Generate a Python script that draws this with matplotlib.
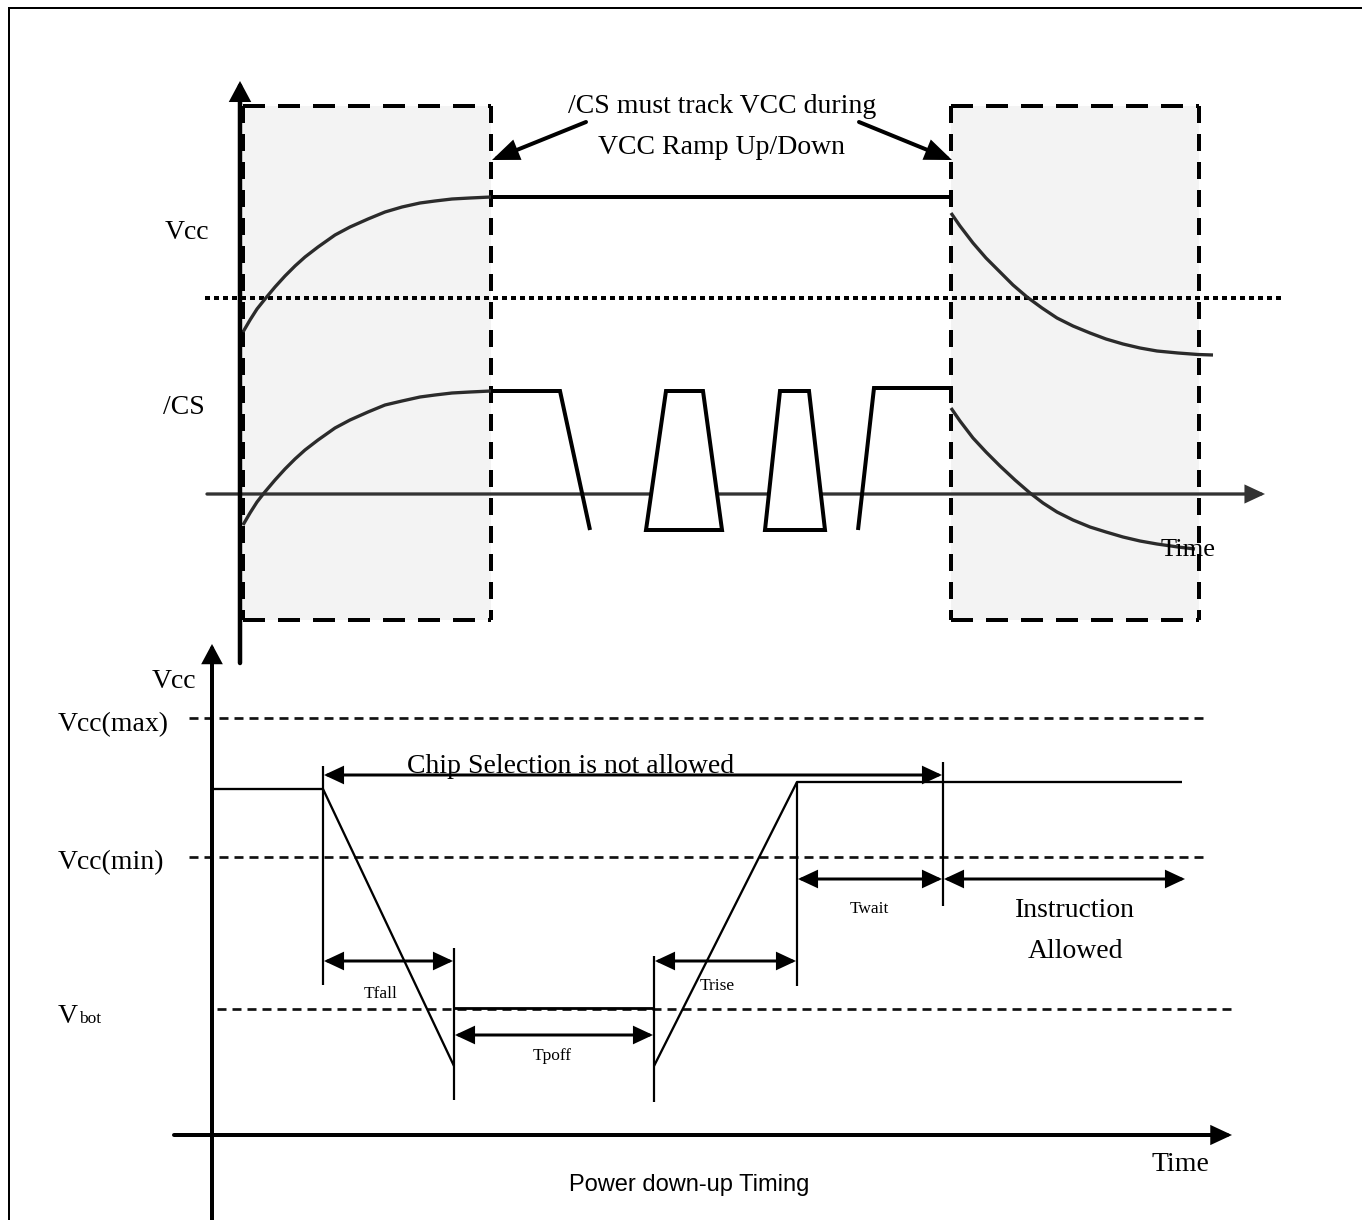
import matplotlib
matplotlib.use('Agg')
import matplotlib.pyplot as plt
from matplotlib.patches import FancyArrowPatch, Rectangle, Polygon

plt.rcParams['lines.scale_dashes'] = False
plt.rcParams['lines.solid_capstyle'] = 'butt'

# ---------------- data (in picture units) ----------------
W, H = 1362, 1220

# top panel: Vcc ramp-up curve (left box), Vcc ramp-down (right box)
vcc_up_x = [243, 250, 257, 265, 275, 285, 295, 305, 318, 335, 350, 368, 385, 402, 420, 435, 452, 470, 491]
vcc_up_y = [332, 320, 309, 299, 287, 276, 266, 257, 247, 235, 227, 219, 212, 207, 203, 201, 199, 198, 197]
vcc_dn_x = [951, 960, 973, 986, 1000, 1013, 1027, 1042, 1057, 1073, 1090, 1106, 1123, 1140, 1157, 1178, 1198, 1213]
vcc_dn_y = [213, 226, 243, 258, 272, 285, 297, 308, 318, 326, 333, 339, 344, 348, 351, 353, 354.5, 355]
vcc_flat_x = [491, 950]
vcc_flat_y = [197, 197]

# top panel: /CS tracking curves
cs_up_x = [243, 250, 257, 264, 275, 285, 295, 305, 318, 335, 350, 368, 385, 402, 420, 435, 452, 470, 491]
cs_up_y = [525, 513, 502, 493, 480, 469, 459, 450, 440, 428, 420, 412, 405, 401, 397, 395, 393, 392, 391]
cs_dn_x = [951, 960, 973, 986, 1000, 1015, 1030, 1043, 1057, 1073, 1090, 1106, 1123, 1140, 1157, 1178, 1195]
cs_dn_y = [408, 421, 438, 452, 466, 480, 493, 503, 512, 520, 527, 532, 537, 541, 544, 547, 549]

# top panel: /CS digital pulses
cs_high_x = [491, 560, 590]
cs_high_y = [391, 391, 530]
pulse1_x = [646, 666, 703, 722]
pulse1_y = [530, 391, 391, 530]
pulse2_x = [765, 780, 809, 825]
pulse2_y = [530, 391, 391, 530]
cs_last_x = [858, 874, 950]
cs_last_y = [530, 388, 388]

threshold_y = 298
time_axis_y = 494
box_left = (243, 491)
box_right = (951, 1199)
box_top, box_bot = 106, 620

# bottom panel: Vcc power down-up waveform
pd_fall_x = [212, 323, 454]
pd_fall_y = [789, 789, 1066]
poff_x = [454, 654]
poff_y = [1008, 1008]
pu_rise_x = [654, 797, 1182]
pu_rise_y = [1066, 782, 782]

level_names = ['Vcc(max)', 'Vcc(min)', 'Vbot']
level_y = [718, 857, 1009]
level_x0 = [189, 189, 217]
level_x1 = [1208, 1208, 1237]

marker_x = [323, 454, 654, 797, 943]
marker_y0 = [766, 948, 956, 782, 762]
marker_y1 = [985, 1100, 1102, 986, 906]

span_labels = ['Chip Selection is not allowed', 'Tfall', 'Tpoff', 'Trise', 'Twait', '']
span_x0 = [323, 323, 454, 654, 797, 943]
span_x1 = [943, 454, 654, 797, 943, 1186]
span_y = [775, 961, 1035, 961, 879, 879]

# ---------------- drawing ----------------
PX = 72.0 / 100.0  # points per pixel at dpi 100
SERIF = 'Liberation Serif'
SANS = 'Liberation Sans'

fig = plt.figure(figsize=(W / 100, H / 100), dpi=100)
ax = fig.add_axes([0, 0, 1, 1])
ax.set_xlim(0, W)
ax.set_ylim(H, 0)
ax.axis('off')

def arrow(x0, y0, x1, y1, hl, hw, lw, style='-|>', color='black', z=5):
    a = FancyArrowPatch((x0, y0), (x1, y1),
                        arrowstyle=f'{style},head_length={hl * PX},head_width={hw * PX}',
                        mutation_scale=1, lw=lw * PX, color=color,
                        shrinkA=0, shrinkB=0, zorder=z, joinstyle='miter')
    ax.add_patch(a)

# frame (top and left edges)
ax.plot([8, W], [8, 8], color='black', lw=2 * PX, zorder=1)
ax.plot([9, 9], [8, H], color='black', lw=2 * PX, zorder=1)

# shaded boxes with dashed borders
hdash = (0, (22 * PX, 13 * PX))
vdash = (0, (17 * PX, 11 * PX))
for (bx0, bx1) in (box_left, box_right):
    ax.add_patch(Rectangle((bx0, box_top), bx1 - bx0, box_bot - box_top,
                           facecolor='#f3f3f3', edgecolor='none', zorder=0))
    ax.plot([bx0, bx1], [box_top, box_top], color='black', lw=4 * PX, ls=hdash, zorder=3)
    ax.plot([bx0, bx1], [box_bot, box_bot], color='black', lw=4 * PX, ls=hdash, zorder=3)
    ax.plot([bx0, bx0], [box_top, box_bot], color='black', lw=4 * PX, ls=vdash, zorder=3)
    ax.plot([bx1, bx1], [box_top, box_bot], color='black', lw=4 * PX, ls=vdash, zorder=3)

# top vertical axis
arrow(240, 663, 240, 81, 14, 7.5, 4.5, z=6)
# threshold dotted line
ax.plot([205, 1282], [threshold_y, threshold_y], color='black', lw=4 * PX,
        ls=(0, (5 * PX, 4 * PX)), zorder=2)
# top time axis
arrow(207, time_axis_y, 1265, time_axis_y, 15, 7, 3.3, color='#333333', z=2)

curve_kw = dict(color='#2b2b2b', lw=3.3 * PX, zorder=4, solid_joinstyle='round')
# Vcc curves
ax.plot(vcc_up_x, vcc_up_y, **curve_kw)
ax.plot(vcc_dn_x, vcc_dn_y, **curve_kw)
ax.plot(vcc_flat_x, vcc_flat_y, color='black', lw=4 * PX, zorder=4)
# /CS curves
ax.plot(cs_up_x, cs_up_y, **curve_kw)
ax.plot(cs_dn_x, cs_dn_y, **curve_kw)
# /CS digital
ax.plot(cs_high_x, cs_high_y, color='black', lw=4 * PX, zorder=4, solid_joinstyle='miter')
for px_, py_ in ((pulse1_x, pulse1_y), (pulse2_x, pulse2_y)):
    ax.add_patch(Polygon(list(zip(px_, py_)), closed=True, facecolor='white',
                         edgecolor='black', lw=4 * PX, zorder=4, joinstyle='miter'))
ax.plot(cs_last_x, cs_last_y, color='black', lw=4 * PX, zorder=4, solid_joinstyle='miter')

# top annotations
ax.text(722, 113, '/CS must track VCC during', fontsize=20, family=SERIF,
        ha='center', va='baseline', zorder=7)
ax.text(722, 154, 'VCC Ramp Up/Down', fontsize=20, family=SERIF,
        ha='center', va='baseline', zorder=7)
arrow(586, 122, 492, 160, 20, 8, 4, z=7)
arrow(859, 122, 952, 160, 20, 8, 4, z=7)
ax.text(165, 239, 'Vcc', fontsize=20, family=SERIF, ha='left', va='baseline')
ax.text(163, 414, '/CS', fontsize=20, family=SERIF, ha='left', va='baseline')
ax.text(1188, 556, 'Time', fontsize=19, family=SERIF, ha='center', va='baseline', zorder=8)

# ---------------- bottom panel ----------------
arrow(212, H + 5, 212, 644, 14, 7.5, 4, z=6)
arrow(174, 1135, 1232, 1135, 15, 7, 4, z=6)

for name, yy, x0, x1 in zip(level_names, level_y, level_x0, level_x1):
    ax.plot([x0, x1], [yy, yy], color='#111111', lw=2.7 * PX,
            ls=(0, (9 * PX, 6 * PX)), zorder=2)

ax.plot(pd_fall_x, pd_fall_y, color='black', lw=2.3 * PX, zorder=4)
ax.plot(poff_x, poff_y, color='black', lw=2.8 * PX, zorder=4)
ax.plot(pu_rise_x, pu_rise_y, color='black', lw=2.3 * PX, zorder=4)

for mx, y0, y1 in zip(marker_x, marker_y0, marker_y1):
    ax.plot([mx, mx], [y0, y1], color='black', lw=2.2 * PX, zorder=4)

for x0, x1, yy in zip(span_x0, span_x1, span_y):
    arrow(x0 + 1, yy, x1 - 1, yy, 15, 7, 3, style='<|-|>', z=5)

ax.text(571, 773, span_labels[0], fontsize=20, family=SERIF, ha='center', va='baseline', zorder=6)
ax.text(381, 998, span_labels[1], fontsize=12.5, family=SERIF, ha='center', va='baseline')
ax.text(552, 1060, span_labels[2], fontsize=12.5, family=SERIF, ha='center', va='baseline')
ax.text(717, 990, span_labels[3], fontsize=12.5, family=SERIF, ha='center', va='baseline')
ax.text(869, 913, span_labels[4], fontsize=12.5, family=SERIF, ha='center', va='baseline')
ax.text(1075, 917, 'Instruction', fontsize=20, family=SERIF, ha='center', va='baseline')
ax.text(1075, 958, 'Allowed', fontsize=20, family=SERIF, ha='center', va='baseline')

ax.text(152, 688, 'Vcc', fontsize=20, family=SERIF, ha='left', va='baseline')
ax.text(58, 731, level_names[0], fontsize=20, family=SERIF, ha='left', va='baseline')
ax.text(58, 869, level_names[1], fontsize=20, family=SERIF, ha='left', va='baseline')
ax.text(58, 1023, 'V', fontsize=20, family=SERIF, ha='left', va='baseline')
ax.text(79, 1023, 'bot', fontsize=12.5, family=SERIF, ha='left', va='baseline')

ax.text(1180, 1171, 'Time', fontsize=20, family=SERIF, ha='center', va='baseline')
ax.text(689, 1191, 'Power down-up Timing', fontsize=17, family=SANS, ha='center', va='baseline')

fig.savefig('out.png', dpi=100)
